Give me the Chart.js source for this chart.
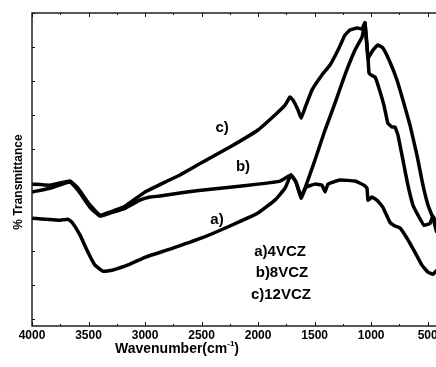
<!DOCTYPE html>
<html>
<head>
<meta charset="utf-8">
<script src="https://cdn.jsdelivr.net/npm/chart.js"></script>
<style>
  body { margin: 0; overflow: hidden; background: #fff; }
  #caja { width: 442px; height: 367px; }
</style>
</head>
<body>
<div id="caja"><canvas id="grafica"></canvas></div>
<script>
// ejes
var xTicks = [4000, 3500, 3000, 2500, 2000, 1500, 1000, 500];
var yTicks = [10, 20, 30, 40, 50, 60, 70, 80, 90, 100];

// a) 4VCZ
var onda_a = [4000, 3752, 3682, 3646, 3575, 3505, 3443, 3372, 3292, 3133, 3000, 2779, 2505, 2249, 2001, 1851, 1762, 1709, 1665, 1620, 1585, 1497, 1408, 1320, 1232, 1143, 1081, 1055, 1028, 984, 940, 896, 834, 772, 719, 657, 595, 542, 497, 453, 420];
var trans_a = [39.7, 39.1, 39.4, 38.5, 34.7, 29.7, 25.9, 24.1, 24.4, 26.2, 28.2, 30.6, 33.8, 37.4, 41.2, 45, 48.5, 52.4, 50.3, 46.2, 48.5, 56.8, 65.6, 73.5, 81.8, 89.1, 92.9, 97.1, 86.8, 89.1, 90.6, 89.7, 85.6, 80.3, 74.4, 67.1, 58.2, 49.4, 43.5, 39.7, 35.5];

// b) 8VCZ
var onda_b = [4000, 3841, 3664, 3593, 3487, 3399, 3310, 3177, 3045, 2956, 2868, 2691, 2505, 2249, 2001, 1806, 1709, 1665, 1620, 1576, 1497, 1435, 1408, 1382, 1276, 1143, 1064, 1037, 1028, 993, 949, 896, 834, 789, 745, 683, 613, 551, 497, 453, 420];
var trans_b = [47.4, 48.5, 50.3, 47.9, 42.9, 40.3, 41.2, 42.6, 45, 45.9, 46.2, 47.1, 47.9, 48.8, 49.7, 50.6, 52.4, 50.3, 45.6, 48.8, 49.7, 49.4, 47.4, 49.7, 50.9, 50.6, 49.4, 48.5, 45, 45.9, 45, 42.9, 38.5, 37.4, 36.8, 33.8, 29.7, 25.9, 23.8, 23.2, 24.4];

// c) 12VCZ
var onda_c = [4000, 3841, 3664, 3593, 3487, 3399, 3310, 3177, 3000, 2824, 2691, 2505, 2249, 2001, 1851, 1762, 1718, 1691, 1647, 1620, 1585, 1523, 1435, 1364, 1293, 1232, 1187, 1125, 1081, 1055, 1028, 1019, 1002, 966, 931, 887, 852, 816, 789, 763, 719, 675, 630, 586, 533, 479, 453, 420];
var trans_c = [49.7, 49.4, 50.6, 48.5, 43.5, 40.6, 41.5, 43.2, 47.4, 50.3, 52.4, 55.9, 60.6, 65.6, 70, 72.9, 75.3, 74.4, 71.5, 69.1, 72.1, 77.4, 81.8, 84.7, 89.1, 93.5, 95, 95.6, 95.3, 97.1, 86.8, 82.4, 81.8, 81.2, 77.9, 72.9, 67.6, 66.5, 66.5, 64.1, 56.8, 49.4, 43.5, 40.6, 37.6, 38.2, 40.3, 38];

var etiquetas = ["a)", "b)", "c)"];
var leyenda = ["a)4VCZ", "b)8VCZ", "c)12VCZ"];

var fuente = "'Liberation Sans', Arial, sans-serif";

function serie(onda, trans) {
  var pts = [];
  for (var i = 0; i < onda.length; i++) {
    pts.push({ x: onda[i], y: trans[i] });
  }
  return {
    data: pts,
    borderColor: '#000',
    borderWidth: 3.5,
    pointRadius: 0,
    fill: false,
    tension: 0.1
  };
}

// marco, ticks hacia adentro y textos
var marco = {
  id: 'marco',
  afterDraw: function (chart) {
    var ctx = chart.ctx;
    var a = chart.chartArea;
    var sx = chart.scales.x;
    var sy = chart.scales.y;
    ctx.save();
    ctx.strokeStyle = '#111';
    ctx.lineWidth = 1.4;
    ctx.strokeRect(a.left, a.top, a.right - a.left, a.bottom - a.top);

    ctx.lineWidth = 1;
    for (var i = 0; i < xTicks.length; i++) {
      var px = Math.round(sx.getPixelForValue(xTicks[i])) + 0.5;
      ctx.beginPath();
      ctx.moveTo(px, a.bottom); ctx.lineTo(px, a.bottom - 4);
      ctx.moveTo(px, a.top); ctx.lineTo(px, a.top + 4);
      ctx.stroke();
      var m = xTicks[i] - 250;
      if (m >= sx.min) {
        var pm = Math.round(sx.getPixelForValue(m)) + 0.5;
        ctx.beginPath();
        ctx.moveTo(pm, a.bottom); ctx.lineTo(pm, a.bottom - 2);
        ctx.moveTo(pm, a.top); ctx.lineTo(pm, a.top + 2);
        ctx.stroke();
      }
    }
    for (var j = 0; j < yTicks.length; j++) {
      var py = Math.round(sy.getPixelForValue(yTicks[j])) + 0.5;
      ctx.beginPath();
      ctx.moveTo(a.left, py); ctx.lineTo(a.left + 3, py);
      ctx.stroke();
    }

    ctx.fillStyle = '#000';
    ctx.textAlign = 'center';
    ctx.textBaseline = 'middle';
    ctx.font = 'bold 15px ' + fuente;
    // etiquetas de las curvas
    var posEt = [[2364, 39.1], [2134, 54.7], [2319, 66.2]];
    for (var k = 0; k < etiquetas.length; k++) {
      ctx.fillText(etiquetas[k], sx.getPixelForValue(posEt[k][0]), sy.getPixelForValue(posEt[k][1]));
    }
    var posLey = [[1806, 29.7], [1789, 23.5], [1798, 17.1]];
    for (var k2 = 0; k2 < leyenda.length; k2++) {
      ctx.fillText(leyenda[k2], sx.getPixelForValue(posLey[k2][0]), sy.getPixelForValue(posLey[k2][1]));
    }

    // titulo eje y
    ctx.save();
    ctx.translate(19, 182);
    ctx.rotate(-Math.PI / 2);
    ctx.font = 'bold 12px ' + fuente;
    ctx.fillText('% Transmittance', 0, 0);
    ctx.restore();

    // titulo eje x con superindice
    ctx.textAlign = 'left';
    ctx.textBaseline = 'alphabetic';
    var t1 = 'Wavenumber(cm', t2 = '-1', t3 = ')';
    ctx.font = 'bold 14px ' + fuente;
    var w1 = ctx.measureText(t1).width, w3 = ctx.measureText(t3).width;
    ctx.font = 'bold 8px ' + fuente;
    var w2 = ctx.measureText(t2).width;
    var x0 = 177 - (w1 + w2 + w3) / 2;
    var base = 353;
    ctx.font = 'bold 14px ' + fuente;
    ctx.fillText(t1, x0, base);
    ctx.font = 'bold 8px ' + fuente;
    ctx.fillText(t2, x0 + w1, base - 7);
    ctx.font = 'bold 14px ' + fuente;
    ctx.fillText(t3, x0 + w1 + w2, base);
    ctx.restore();
  }
};

new Chart(document.getElementById("grafica"), {
  type: 'line',
  data: {
    datasets: [serie(onda_a, trans_a), serie(onda_b, trans_b), serie(onda_c, trans_c)]
  },
  options: {
    responsive: true,
    maintainAspectRatio: false,
    animation: false,
    layout: { padding: { top: 13, right: 3, left: 0, bottom: 0 } },
    plugins: {
      legend: { display: false },
      tooltip: { enabled: false }
    },
    scales: {
      x: {
        type: 'linear',
        reverse: true,
        min: 400,
        max: 4000,
        afterBuildTicks: function (s) { s.ticks = xTicks.map(function (v) { return { value: v }; }); },
        afterFit: function (s) { s.height = 41; },
        grid: { display: false, drawTicks: false },
        border: { display: false },
        ticks: {
          padding: 2,
          color: '#000',
          autoSkip: false,
          maxRotation: 0,
          font: { family: fuente, weight: 'bold', size: 12 },
          callback: function (v) { return String(v); }
        }
      },
      y: {
        min: 8,
        max: 100,
        afterBuildTicks: function (s) { s.ticks = yTicks.map(function (v) { return { value: v }; }); },
        afterFit: function (s) { s.width = 32; },
        grid: { display: false, drawTicks: false },
        border: { display: false },
        ticks: { display: false }
      }
    }
  },
  plugins: [marco]
});
</script>
</body>
</html>
